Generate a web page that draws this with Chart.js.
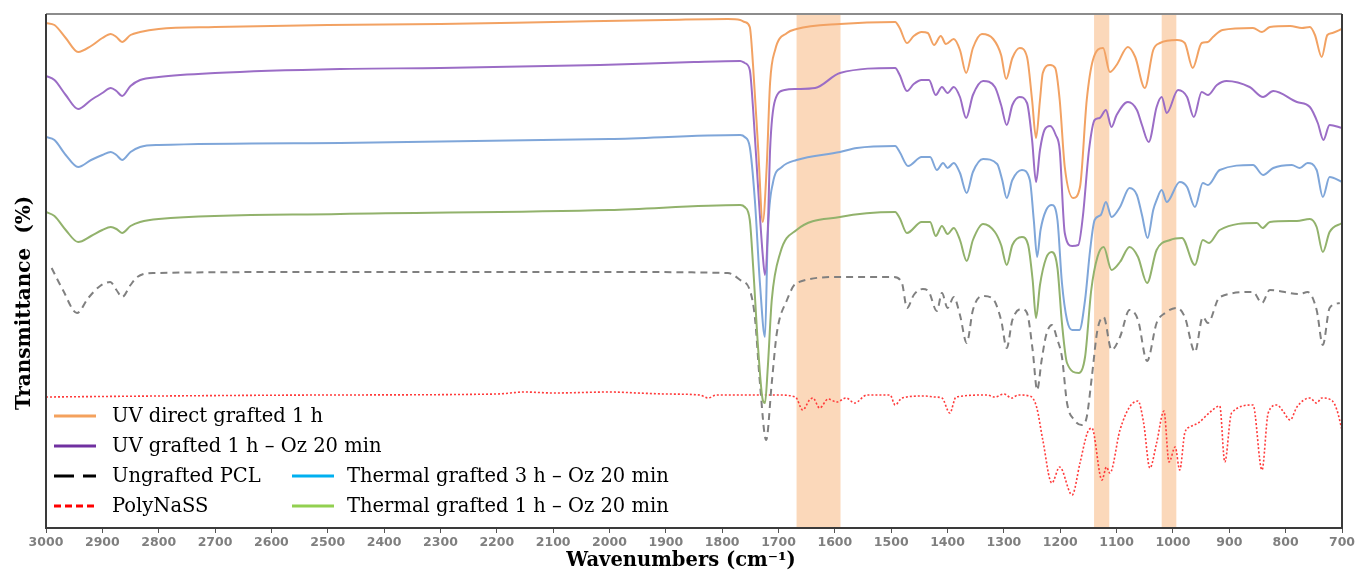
<!DOCTYPE html>
<html lang="en">
<head>
    <meta charset="UTF-8">
    <title>FTIR spectra</title>
    <script src="https://cdn.jsdelivr.net/npm/chart.js"></script>
    <style>
        body { margin: 0; background: #fff; }
    </style>
</head>
<body>
    <canvas id="ftirChart" width="1358" height="576"></canvas>

    <script>
        // wavenumbers (cm-1) and transmittance (arbitrary, offset)
        const uvDirectWn = [3000,2985,2965,2943,2920,2900,2885,2875,2865,2850,2833,2800,2700,2500,2300,2100,1900,1790,1768,1760,1751,1745,1736,1728,1721,1715,1706,1685,1668,1591,1493,1485,1472,1460,1446,1435,1424,1412,1403,1389,1378,1367,1355,1339,1319,1305,1296,1285,1272,1259,1250,1243,1236,1231,1218,1209,1201,1192,1177,1165,1153,1142,1124,1112,1100,1080,1067,1050,1035,1023,993,979,965,949,938,929,912,858,842,828,792,771,757,748,736,726,717,700];
        const uvDirectT = [505,503,490,476,482,490,494,491,486,493,496,499,501,503,504,506,508,509,508,506,501,461,378,306,361,445,478,495,499,504,506,500,485,492,496,495,483,492,484,489,478,455,480,494,489,473,449,470,480,471,428,390,428,455,463,460,428,361,330,341,428,468,480,456,463,481,471,440,478,485,488,485,460,485,486,491,498,500,496,501,502,500,501,493,471,493,495,499];

        const uvOzWn = [3000,2985,2965,2943,2920,2900,2885,2875,2865,2850,2833,2800,2700,2478,2300,2017,1850,1768,1760,1751,1745,1736,1728,1724,1719,1715,1706,1689,1668,1635,1591,1493,1485,1472,1460,1446,1433,1421,1410,1400,1389,1378,1367,1355,1337,1316,1305,1295,1285,1272,1259,1250,1243,1236,1228,1218,1208,1201,1192,1179,1168,1160,1149,1139,1130,1119,1109,1100,1080,1064,1055,1043,1029,1020,1011,991,975,963,949,938,922,905,864,840,822,780,757,743,733,722,700];
        const uvOzT = [452,448,433,419,428,435,440,437,432,442,448,451,455,459,460,463,466,467,465,458,418,338,273,253,298,378,428,438,439,440,455,460,453,437,444,448,448,433,441,435,441,431,410,433,447,441,423,403,423,431,425,388,346,378,398,402,393,378,295,282,283,311,378,408,410,418,401,413,426,418,403,386,421,431,415,438,431,411,436,433,443,447,441,431,437,426,421,405,388,403,400];

        const th3Wn = [3000,2985,2965,2943,2920,2900,2885,2875,2865,2850,2833,2800,2478,2000,1768,1760,1751,1742,1733,1724,1719,1710,1694,1668,1591,1561,1493,1485,1470,1446,1431,1419,1408,1400,1389,1378,1366,1355,1337,1312,1303,1295,1285,1268,1254,1247,1241,1235,1225,1215,1205,1197,1188,1179,1166,1156,1147,1139,1128,1119,1109,1094,1077,1064,1055,1045,1035,1029,1020,1011,988,975,961,947,938,917,858,840,822,789,775,761,745,734,722,700];
        const th3T = [391,388,373,361,368,373,376,373,368,376,381,383,385,389,393,391,381,328,245,191,295,345,361,368,376,380,382,376,362,371,371,358,365,360,365,355,335,356,369,364,348,330,348,358,348,308,271,298,318,323,308,245,208,198,198,228,278,308,313,326,311,321,340,333,313,290,318,328,338,326,346,341,321,345,343,358,363,353,360,363,360,365,358,331,351,346];

        const th1Wn = [3000,2985,2965,2943,2920,2900,2885,2875,2865,2850,2833,2800,2478,2000,1768,1760,1751,1745,1736,1728,1724,1719,1712,1697,1668,1591,1493,1485,1472,1446,1431,1421,1410,1400,1389,1378,1366,1355,1337,1316,1305,1295,1285,1268,1257,1249,1243,1236,1225,1215,1205,1197,1188,1167,1156,1145,1134,1123,1109,1094,1077,1062,1046,1029,1005,984,961,947,936,917,851,841,828,780,757,745,734,722,700];
        const th1T = [316,312,298,286,292,298,301,299,295,302,306,309,314,318,323,321,308,261,178,128,125,161,228,275,298,311,316,310,295,306,306,292,302,294,300,288,267,288,304,296,283,263,283,291,283,248,210,243,270,276,260,205,165,155,171,238,271,281,258,266,281,271,245,278,288,290,263,288,285,298,305,300,306,307,309,301,276,296,305];

        const pclWn = [2990,2970,2945,2925,2904,2886,2875,2865,2850,2838,2810,2500,2000,1790,1768,1751,1742,1733,1722,1712,1703,1685,1668,1591,1496,1481,1472,1460,1444,1433,1419,1410,1400,1389,1378,1366,1355,1339,1321,1305,1295,1285,1268,1259,1249,1241,1233,1225,1215,1205,1197,1188,1175,1162,1153,1144,1134,1123,1109,1094,1077,1062,1046,1029,1014,993,979,961,947,938,917,858,842,828,775,761,745,734,722,704];
        const pclT = [260,238,215,230,242,246,238,231,243,251,255,256,256,255,248,238,211,145,88,145,195,228,245,251,251,245,220,233,239,236,217,235,220,231,213,185,218,232,230,208,180,208,219,215,178,138,168,193,203,188,171,125,108,103,111,151,198,211,178,191,218,208,167,205,215,220,211,176,211,205,231,236,225,238,234,236,218,183,220,225];

        const nassWn = [3000,2800,2500,2200,2150,2100,2000,1950,1900,1840,1825,1810,1700,1670,1657,1645,1639,1627,1612,1597,1580,1565,1543,1502,1493,1481,1440,1423,1410,1396,1385,1330,1316,1300,1286,1275,1254,1242,1231,1215,1201,1179,1165,1152,1144,1126,1118,1112,1094,1077,1062,1052,1041,1029,1016,1007,996,988,979,970,955,934,917,908,896,858,842,831,815,805,792,780,757,745,736,717,709,700];
        const nassT = [131,132,133,134,136,135,136,135,134,133,130,133,133,131,118,128,130,120,129,126,130,125,133,133,123,130,132,131,130,115,131,133,131,134,130,133,132,121,88,45,61,33,65,95,100,48,61,55,98,121,127,105,60,85,117,66,81,58,95,101,105,116,122,66,115,123,58,115,123,117,108,121,130,125,130,127,118,98];

        // highlighted bands (cm-1)
        const bandFrom = [1668, 1140, 1020];
        const bandTo = [1590, 1113, 994];

        const seriesNames = ['UV direct grafted 1 h', 'UV grafted 1 h \u2013 Oz 20 min', 'Thermal grafted 3 h \u2013 Oz 20 min',
            'Thermal grafted 1 h \u2013 Oz 20 min', 'Ungrafted PCL', 'PolyNaSS'];

        function pts(wn, t) {
            return wn.map((w, i) => ({ x: w, y: t[i] }));
        }

        function line(label, wn, t, color, width, dash) {
            return {
                label: label,
                data: pts(wn, t),
                borderColor: color,
                borderWidth: width,
                borderDash: dash || [],
                pointRadius: 0,
                fill: false,
                cubicInterpolationMode: 'monotone'
            };
        }

        // legend swatches: col, row, colour, dash
        const legendItems = [
            { text: seriesNames[0], col: 0, row: 0, color: '#F4A15D', dash: [] },
            { text: seriesNames[1], col: 0, row: 1, color: '#7030A0', dash: [] },
            { text: seriesNames[4], col: 0, row: 2, color: '#000000', dash: [20, 9] },
            { text: seriesNames[5], col: 0, row: 3, color: '#FF0000', dash: [7, 4] },
            { text: seriesNames[2], col: 1, row: 2, color: '#00B0F0', dash: [] },
            { text: seriesNames[3], col: 1, row: 3, color: '#92D050', dash: [] }
        ];

        const extras = {
            id: 'extras',
            beforeDatasetsDraw(chart) {
                const { ctx, chartArea: a, scales: { x } } = chart;
                ctx.save();
                ctx.fillStyle = '#FBD8BA';
                bandFrom.forEach((f, i) => {
                    const x1 = x.getPixelForValue(f);
                    const x2 = x.getPixelForValue(bandTo[i]);
                    ctx.fillRect(x1, a.top, x2 - x1, a.bottom - a.top);
                });
                ctx.restore();
            },
            afterDraw(chart) {
                const { ctx, chartArea: a } = chart;
                ctx.save();
                // frame
                ctx.lineWidth = 2;
                ctx.strokeStyle = '#8c8c8c';
                ctx.beginPath();
                ctx.moveTo(a.left, a.top);
                ctx.lineTo(a.right, a.top);
                ctx.stroke();
                ctx.strokeStyle = '#3a3a3a';
                ctx.beginPath();
                ctx.moveTo(a.left, a.top);
                ctx.lineTo(a.left, a.bottom);
                ctx.lineTo(a.right, a.bottom);
                ctx.lineTo(a.right, a.top);
                ctx.stroke();

                // legend
                ctx.font = '19.5px "DejaVu Serif"';
                ctx.textBaseline = 'middle';
                ctx.fillStyle = '#000';
                legendItems.forEach(it => {
                    const y = a.bottom - 112 + it.row * 30;
                    const sx = it.col === 0 ? a.left + 8 : a.left + 246;
                    const sw = 42;
                    const tx = it.col === 0 ? a.left + 66 : a.left + 301;
                    ctx.strokeStyle = it.color;
                    ctx.lineWidth = 3;
                    ctx.setLineDash(it.dash);
                    ctx.beginPath();
                    ctx.moveTo(sx, y);
                    ctx.lineTo(sx + sw, y);
                    ctx.stroke();
                    ctx.setLineDash([]);
                    ctx.fillText(it.text, tx, y + 1);
                });

                // axis titles
                ctx.textAlign = 'center';
                ctx.textBaseline = 'middle';
                ctx.font = 'bold 19.5px "DejaVu Serif"';
                ctx.fillText('Wavenumbers (cm\u207B\u00B9)', 681, 561);
                ctx.translate(25, 303);
                ctx.rotate(-Math.PI / 2);
                ctx.font = 'bold 20px "DejaVu Serif"';
                ctx.fillText('Transmittance  (%)', 0, 0);
                ctx.restore();
            }
        };

        const ctx = document.getElementById('ftirChart').getContext('2d');
        const ftirChart = new Chart(ctx, {
            type: 'line',
            data: {
                datasets: [
                    line(seriesNames[0], uvDirectWn, uvDirectT, '#F2A263', 2),
                    line(seriesNames[1], uvOzWn, uvOzT, '#9B6DC6', 2),
                    line(seriesNames[2], th3Wn, th3T, '#7FA6D9', 2),
                    line(seriesNames[3], th1Wn, th1T, '#92B26C', 2),
                    line(seriesNames[4], pclWn, pclT, '#808080', 2, [7, 5]),
                    line(seriesNames[5], nassWn, nassT, '#FF3B3B', 1.6, [2, 2])
                ]
            },
            options: {
                responsive: false,
                animation: false,
                layout: { padding: { top: 14, right: 16, left: 0, bottom: 0 } },
                plugins: {
                    legend: { display: false },
                    tooltip: { enabled: false }
                },
                scales: {
                    x: {
                        type: 'linear',
                        reverse: true,
                        min: 700,
                        max: 3000,
                        ticks: {
                            stepSize: 100,
                            autoSkip: false,
                            maxRotation: 0,
                            color: '#7f7f7f',
                            padding: 2,
                            font: { family: 'DejaVu Sans', weight: 'bold', size: 12.5 },
                            callback: v => String(v)
                        },
                        grid: { drawOnChartArea: false, tickLength: 5, color: '#555' },
                        border: { display: false },
                        afterFit: s => { s.height = 48; }
                    },
                    y: {
                        min: 0,
                        max: 514,
                        ticks: { display: false },
                        grid: { display: false },
                        border: { display: false },
                        afterFit: s => { s.width = 46; }
                    }
                }
            },
            plugins: [extras]
        });
    </script>
</body>
</html>
